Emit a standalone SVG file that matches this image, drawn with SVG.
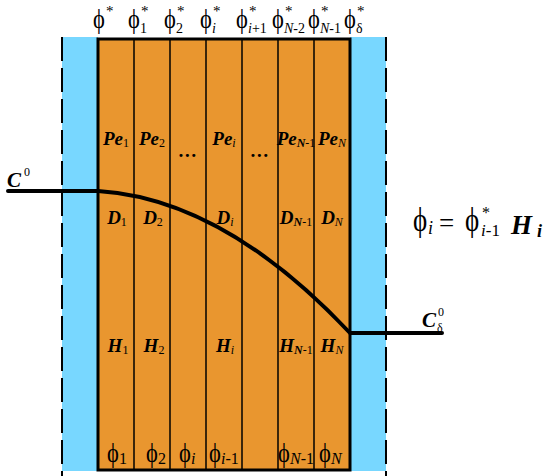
<svg xmlns="http://www.w3.org/2000/svg" width="550" height="476" viewBox="0 0 550 476">
<style>
.ser{font-family:"Liberation Serif","DejaVu Serif",serif;fill:#000}
.phi{font-size:25px}
.lbl{font-size:19px;font-weight:bold;font-style:italic}
.sub{font-size:12px;font-weight:normal;font-style:normal}
.it{font-style:italic}
.st{font-size:15px}
.ts{font-size:14px}
.bs{font-size:16px}
.dash{stroke:#000;stroke-width:2;stroke-dasharray:24 7;fill:none}
.div{stroke:#000;stroke-width:1.5}
.thick{stroke:#000;stroke-width:4;fill:none;stroke-linecap:round}
</style>
<rect width="550" height="476" fill="#fff"/>
<g id="membranes">
<rect x="62" y="37" width="36" height="434" fill="#78D7FF"/>
<rect x="350" y="37" width="36" height="434" fill="#78D7FF"/>
<line class="dash" x1="62" y1="37" x2="62" y2="476"/>
<line class="dash" x1="386" y1="37" x2="386" y2="476"/>
</g>
<g id="layers">
<rect x="98" y="39" width="252" height="431" fill="#E9962F" stroke="#000" stroke-width="3"/>
<line class="div" x1="134" y1="39" x2="134" y2="470"/>
<line class="div" x1="170" y1="39" x2="170" y2="470"/>
<line class="div" x1="206" y1="39" x2="206" y2="470"/>
<line class="div" x1="242" y1="39" x2="242" y2="470"/>
<line class="div" x1="278" y1="39" x2="278" y2="470"/>
<line class="div" x1="314" y1="39" x2="314" y2="470"/>
</g>
<g id="connectors">
<path class="thick" d="M8,191 L98,191 Q224,199 350,333 L442,333"/>
</g>
<g id="top-labels" class="ser">
<text class="phi" transform="translate(99,28) scale(0.9,1.1)" text-anchor="middle">ϕ</text><text class="st" x="106" y="16">*</text>
<text class="phi" transform="translate(134,28) scale(0.9,1.1)" text-anchor="middle">ϕ</text><text class="st" x="141" y="16">*</text><text class="ts" x="140" y="33">1</text>
<text class="phi" transform="translate(170,28) scale(0.9,1.1)" text-anchor="middle">ϕ</text><text class="st" x="177" y="16">*</text><text class="ts" x="176" y="33">2</text>
<text class="phi" transform="translate(206,28) scale(0.9,1.1)" text-anchor="middle">ϕ</text><text class="st" x="213" y="16">*</text><text class="ts" x="212" y="33" font-style="italic">i</text>
<text class="phi" transform="translate(242,28) scale(0.9,1.1)" text-anchor="middle">ϕ</text><text class="st" x="249" y="16">*</text><text class="ts" x="248" y="33"><tspan font-style="italic">i</tspan>+1</text>
<text class="phi" transform="translate(278,28) scale(0.9,1.1)" text-anchor="middle">ϕ</text><text class="st" x="285" y="16">*</text><text class="ts" x="284" y="33"><tspan font-style="italic">N</tspan>-2</text>
<text class="phi" transform="translate(314,28) scale(0.9,1.1)" text-anchor="middle">ϕ</text><text class="st" x="321" y="16">*</text><text class="ts" x="320" y="33"><tspan font-style="italic">N</tspan>-1</text>
<text class="phi" transform="translate(350,28) scale(0.9,1.1)" text-anchor="middle">ϕ</text><text class="st" x="357" y="16">*</text><text class="ts" x="356" y="33">δ</text>
</g>
<g id="pe-row" class="ser">
<text class="lbl" x="116" y="145" text-anchor="middle">Pe<tspan class="sub" dy="2">1</tspan></text>
<text class="lbl" x="152" y="145" text-anchor="middle">Pe<tspan class="sub" dy="2">2</tspan></text>
<text class="lbl" x="188" y="157" text-anchor="middle">…</text>
<text class="lbl" x="224" y="145" text-anchor="middle">Pe<tspan class="sub it" dy="2" font-weight="bold">i</tspan></text>
<text class="lbl" x="260" y="157" text-anchor="middle">…</text>
<text class="lbl" x="296" y="145" text-anchor="middle">Pe<tspan class="sub" dy="2" font-size="9.5"><tspan font-style="italic" font-weight="bold">N</tspan>-1</tspan></text>
<text class="lbl" x="332" y="145" text-anchor="middle">Pe<tspan class="sub it" dy="2" font-weight="bold" font-size="11">N</tspan></text>
</g>
<g id="d-row" class="ser">
<text class="lbl" x="117" y="224" text-anchor="middle">D<tspan class="sub" dy="2">1</tspan></text>
<text class="lbl" x="153" y="224" text-anchor="middle">D<tspan class="sub" dy="2">2</tspan></text>
<text class="lbl" x="225" y="224" text-anchor="middle">D<tspan class="sub it" dy="2" font-weight="bold">i</tspan></text>
<text class="lbl" x="296" y="224" text-anchor="middle">D<tspan class="sub" dy="2" font-size="10"><tspan font-style="italic" font-weight="bold">N</tspan>-1</tspan></text>
<text class="lbl" x="332" y="224" text-anchor="middle">D<tspan class="sub it" dy="2" font-weight="bold" font-size="11">N</tspan></text>
</g>
<g id="h-row" class="ser">
<text class="lbl" x="118" y="352" text-anchor="middle">H<tspan class="sub" dy="2">1</tspan></text>
<text class="lbl" x="154" y="352" text-anchor="middle">H<tspan class="sub" dy="2">2</tspan></text>
<text class="lbl" x="225" y="352" text-anchor="middle">H<tspan class="sub it" dy="2" font-weight="bold">i</tspan></text>
<text class="lbl" x="296" y="352" text-anchor="middle">H<tspan class="sub" dy="2" font-size="10"><tspan font-style="italic" font-weight="bold">N</tspan>-1</tspan></text>
<text class="lbl" x="332" y="352" text-anchor="middle">H<tspan class="sub it" dy="2" font-weight="bold" font-size="11">N</tspan></text>
</g>
<g id="bottom-labels" class="ser">
<text class="phi" transform="translate(113,462) scale(0.9,1.1)" text-anchor="middle">ϕ</text><text class="bs" x="119" y="464">1</text>
<text class="phi" transform="translate(152,462) scale(0.9,1.1)" text-anchor="middle">ϕ</text><text class="bs" x="158" y="464">2</text>
<text class="phi" transform="translate(185,462) scale(0.9,1.1)" text-anchor="middle">ϕ</text><text class="bs" x="191" y="464" font-style="italic">i</text>
<text class="phi" transform="translate(215,462) scale(0.9,1.1)" text-anchor="middle">ϕ</text><text class="bs" x="221" y="464"><tspan font-style="italic">i</tspan>-1</text>
<text class="phi" transform="translate(284,462) scale(0.9,1.1)" text-anchor="middle">ϕ</text><text class="bs" x="290" y="464" font-size="15"><tspan font-style="italic">N</tspan>-1</text>
<text class="phi" transform="translate(325,462) scale(0.9,1.1)" text-anchor="middle">ϕ</text><text class="bs" x="331" y="464" font-style="italic">N</text>
</g>
<g id="c0" class="ser">
<text x="7" y="187" font-size="21" font-weight="bold" font-style="italic">C</text>
<text x="24" y="176" font-size="12">0</text>
</g>
<g id="cdelta" class="ser">
<text x="422" y="327" font-size="21" font-weight="bold" font-style="italic">C</text>
<text x="438" y="316" font-size="12">0</text>
<text x="437" y="332" font-size="12">δ</text>
</g>
<g id="equation" class="ser">
<text transform="translate(420,231) scale(0.9,1.12)" font-size="30" text-anchor="middle">ϕ</text>
<text x="428" y="234" font-size="18" font-style="italic">i</text>
<text x="439" y="232" font-size="27">=</text>
<text transform="translate(472,231) scale(0.9,1.12)" font-size="30" text-anchor="middle">ϕ</text>
<text x="482" y="218" font-size="16">*</text>
<text x="481" y="236" font-size="17"><tspan font-style="italic">i</tspan>-1</text>
<text x="511" y="234" font-size="27" font-weight="bold" font-style="italic">H</text>
<text x="537" y="237" font-size="18" font-weight="bold" font-style="italic">i</text>
</g>
</svg>
